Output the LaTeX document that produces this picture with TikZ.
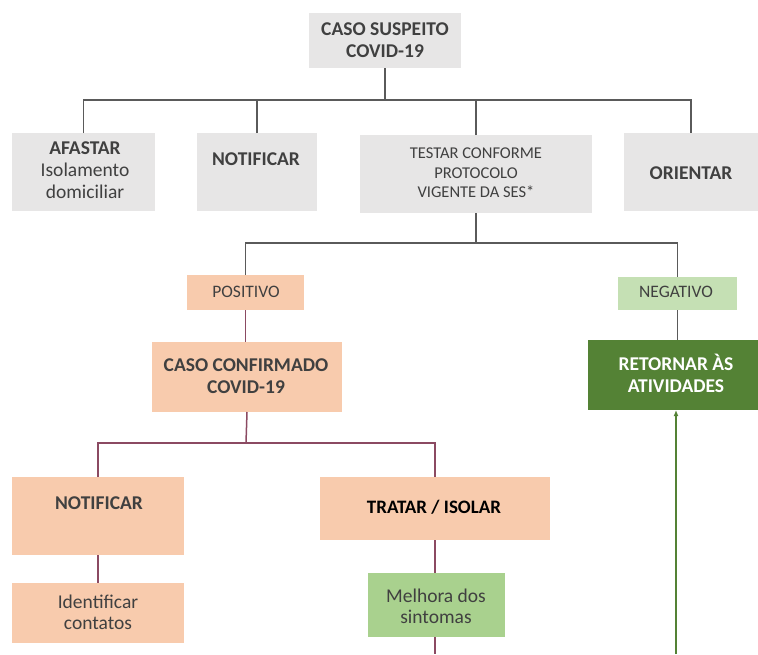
\documentclass[tikz,border=0pt]{standalone}
\usepackage{fontspec}
\setmainfont{Carlito}
\usetikzlibrary{arrows.meta}
\definecolor{boxgray}{HTML}{E7E6E6}
\definecolor{peach}{HTML}{F8CBAD}
\definecolor{lgreen}{HTML}{C5E0B4}
\definecolor{mgreen}{HTML}{A9D18E}
\definecolor{dgreen}{HTML}{548235}
\definecolor{linegray}{HTML}{5A5A5A}
\definecolor{maroon}{HTML}{8B4A62}
\definecolor{txtgray}{HTML}{404040}
\tikzset{
  box/.style={draw=none, inner sep=0pt, outer sep=0pt},
  txt/.style={inner sep=0pt, align=center, text=txtgray},
  bigb/.style={txt, font=\fontsize{19.5}{21.5}\selectfont\bfseries},
  reg/.style={txt, font=\fontsize{16.5}{19.5}\selectfont},
  low/.style={txt, font=\fontsize{19.5}{21.5}\selectfont},
  regb/.style={txt, font=\fontsize{17.5}{21}\selectfont},
  gl/.style={draw=linegray, line width=1.5pt},
  ml/.style={draw=maroon, line width=1.5pt},
  grl/.style={draw=dgreen, line width=2pt},
}
\begin{document}
\begin{tikzpicture}[x=1pt,y=-1pt]
\useasboundingbox (0,0) rectangle (758,654);
% boxes
\node[box, fill=boxgray, minimum width=152pt, minimum height=55pt] (sus) at (385,40.5) {};
\node[box, fill=boxgray, minimum width=143pt, minimum height=78pt] (afa) at (83.5,172) {};
\node[box, fill=boxgray, minimum width=120pt, minimum height=78pt] (not1) at (257,172) {};
\node[box, fill=boxgray, minimum width=232pt, minimum height=78pt] (tes) at (476,174) {};
\node[box, fill=boxgray, minimum width=134pt, minimum height=78pt] (ori) at (691,172) {};
\node[box, fill=peach, minimum width=117pt, minimum height=35pt] (pos) at (245.5,292.5) {};
\node[box, fill=peach, minimum width=190pt, minimum height=70pt] (conf) at (247,377) {};
\node[box, fill=lgreen, minimum width=119pt, minimum height=33pt] (neg) at (677.5,293.5) {};
\node[box, fill=dgreen, minimum width=170pt, minimum height=70pt] (ret) at (673,375) {};
\node[box, fill=peach, minimum width=172pt, minimum height=78pt] (not2) at (98,516) {};
\node[box, fill=peach, minimum width=172pt, minimum height=60pt] (ide) at (98,613) {};
\node[box, fill=peach, minimum width=230pt, minimum height=63pt] (tra) at (435,508.5) {};
\node[box, fill=mgreen, minimum width=137pt, minimum height=64pt] (mel) at (436.5,605) {};
% texts
\node[bigb] (tsus) at (385,40) {CASO SUSPEITO\\COVID-19};
\node[bigb] (tafa) at (85,148) {AFASTAR};
\node[low] (tafa2) at (85,181) {Isolamento\\domiciliar};
\node[bigb] (tnot1) at (256,159) {NOTIFICAR};
\node[reg] (ttes) at (476,173) {TESTAR CONFORME\\PROTOCOLO\\VIGENTE DA SES*};
\node[bigb] (tori) at (691,173) {ORIENTAR};
\node[regb] (tpos) at (246,292) {POSITIVO};
\node[regb] (tneg) at (676,292) {NEGATIVO};
\node[bigb] (tconf) at (246,376) {CASO CONFIRMADO\\COVID-19};
\node[bigb, text=white] (tret) at (676,373.5) {RETORNAR ÀS\\ATIVIDADES};
\node[bigb] (tnot2) at (99,503) {NOTIFICAR};
\node[bigb, text=black, font=\fontsize{19}{21}\selectfont\bfseries] (ttra) at (434,507) {TRATAR / ISOLAR};
\node[low] (tide) at (98,612.5) {Identificar\\contatos};
\node[low] (tmel) at (436,606.5) {Melhora dos\\sintomas};
% connectors top
\coordinate (h1) at (385,100);
\draw[gl] (sus.south) -- (h1);
\draw[gl] (afa.north) -- (afa.north |- h1) -- (ori.north |- h1) -- (ori.north);
\draw[gl] (not1.north) -- (not1.north |- h1);
\draw[gl] (tes.north) -- (tes.north |- h1);
\coordinate (h2) at (476,243);
\draw[gl] (tes.south) -- (h2);
\draw[gl] (pos.north) -- (pos.north |- h2) -- (neg.north |- h2) -- (neg.north);
\draw[gl] (neg.south) -- (neg.south |- ret.north);
% positive branch
\draw[ml] (pos.south) -- (pos.south |- conf.north);
\coordinate (h3) at (246,443);
\draw[ml] (conf.south) -- (h3);
\draw[ml] (not2.north) -- (not2.north |- h3) -- (tra.north |- h3) -- (tra.north);
\draw[ml] (not2.south) -- (ide.north);
\draw[ml] (tra.south) -- (tra.south |- mel.north);
\coordinate (mend) at (435,654);
\draw[ml] (mend |- mel.south) -- (mend);
% green return
\coordinate (gend) at (676,654);
\draw[grl, -{Latex[length=6pt,width=5pt]}] (gend) -- (gend |- ret.south);
\end{tikzpicture}
\end{document}
